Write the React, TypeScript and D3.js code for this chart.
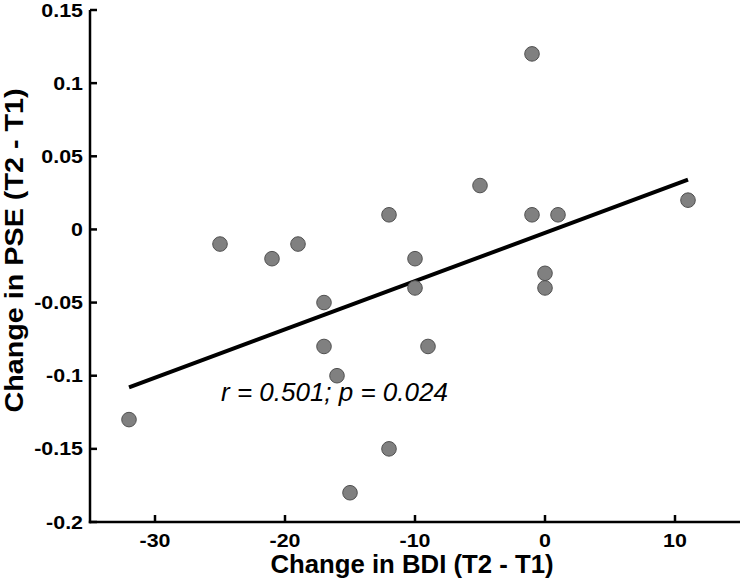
import React from "react";
import * as d3 from "d3";

const bdiChange = [-32, -25, -21, -19, -17, -17, -16, -15, -12, -12, -10, -10, -9, -5, -1, -1, 1, 0, 0, 11];
const pseChange = [-0.13, -0.01, -0.02, -0.01, -0.05, -0.08, -0.1, -0.18, 0.01, -0.15, -0.02, -0.04, -0.08, 0.03, 0.12, 0.01, 0.01, -0.03, -0.04, 0.02];
const fitX = [-32, 11];
const fitY = [-0.108, 0.034];
const xTicks = [-30, -20, -10, 0, 10];
const yTicks = [-0.2, -0.15, -0.1, -0.05, 0, 0.05, 0.1, 0.15];
const xTickLabels = ["-30", "-20", "-10", "0", "10"];
const yTickLabels = ["-0.2", "-0.15", "-0.1", "-0.05", "0", "0.05", "0.1", "0.15"];
const annotation = "r = 0.501; p = 0.024";
const xTitle = "Change in BDI (T2 - T1)";
const yTitle = "Change in PSE (T2 - T1)";

const W = 742;
const H = 583;
const FONT = "'Liberation Sans', Arial, Helvetica, sans-serif";

export default function App() {
  const x = d3.scaleLinear().domain([-35, 15]).range([90, 740]);
  const y = d3.scaleLinear().domain([-0.2, 0.15]).range([522, 10]);
  const line = d3
    .line<number>()
    .x((d) => x(fitX[d]))
    .y((d) => y(fitY[d]));
  const x0 = x(-35);
  const y0 = y(-0.2);

  return (
    <svg
      width={W}
      height={H}
      style={{ position: "absolute", left: 0, top: 0, background: "#fff" }}
      fontFamily={FONT}
    >
      {/* axes */}
      <line x1={x0} y1={y(0.15)} x2={x0} y2={y0 + 1.2} stroke="#000" strokeWidth={2.5} />
      <line x1={x0 - 1.2} y1={y0} x2={x(15)} y2={y0} stroke="#000" strokeWidth={2.5} />
      {yTicks.map((t, i) => (
        <g key={"yt" + i}>
          <line x1={x0} x2={x0 + 7} y1={y(t)} y2={y(t)} stroke="#000" strokeWidth={2.5} />
          <text
            transform={`translate(${x0 - 7},${y(t) + 6.5}) scale(1.19,1)`}
            textAnchor="end"
            fontSize={18}
            fontWeight="bold"
            fill="#000"
          >
            {yTickLabels[i]}
          </text>
        </g>
      ))}
      {xTicks.map((t, i) => (
        <g key={"xt" + i}>
          <line x1={x(t)} x2={x(t)} y1={y0} y2={y0 - 7} stroke="#000" strokeWidth={2.5} />
          <text
            transform={`translate(${x(t)},${y0 + 25}) scale(1.19,1)`}
            textAnchor="middle"
            fontSize={18}
            fontWeight="bold"
            fill="#000"
          >
            {xTickLabels[i]}
          </text>
        </g>
      ))}
      {/* titles */}
      <text
        transform={`translate(${(x0 + x(15)) / 2 - 3},573) scale(1.03,1)`}
        textAnchor="middle"
        fontSize={25}
        fontWeight="bold"
        fill="#000"
      >
        {xTitle}
      </text>
      <text
        transform={`translate(23,250.5) rotate(-90) scale(1.15,1)`}
        textAnchor="middle"
        fontSize={25}
        fontWeight="bold"
        fill="#000"
      >
        {yTitle}
      </text>
      {/* fit line */}
      <path d={line([0, 1]) || ""} stroke="#000" strokeWidth={4} fill="none" />
      {/* points */}
      {bdiChange.map((b, i) => (
        <circle
          key={"p" + i}
          cx={x(b)}
          cy={y(pseChange[i])}
          r={7.3}
          fill="#808080"
          stroke="#505050"
          strokeWidth={1}
        />
      ))}
      {/* annotation */}
      <text
        transform={`translate(221,401) scale(1.04,1)`}
        fontSize={25}
        fontStyle="italic"
        fill="#000"
      >
        {annotation}
      </text>
    </svg>
  );
}
